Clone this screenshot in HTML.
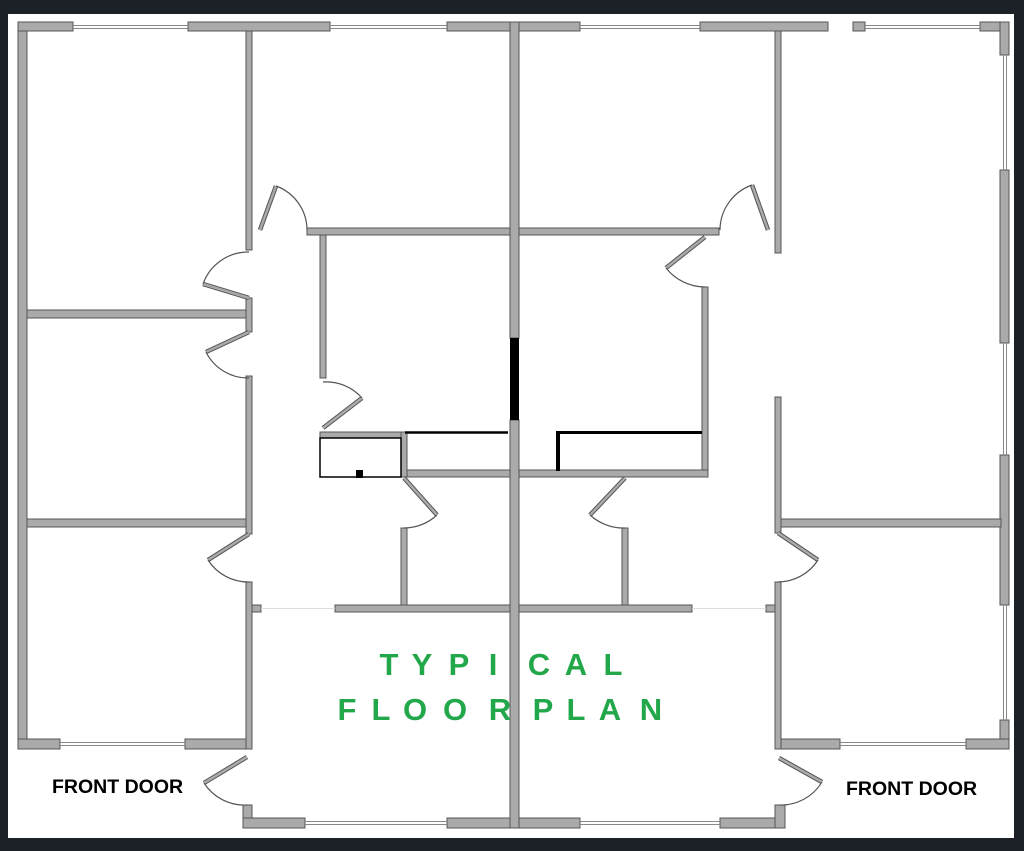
<!DOCTYPE html>
<html><head><meta charset="utf-8"><style>
html,body{margin:0;padding:0;background:#1c2127;}
svg{display:block}
</style></head><body>
<svg width="1024" height="851" viewBox="0 0 1024 851" xmlns="http://www.w3.org/2000/svg">
<rect x="0" y="0" width="1024" height="851" fill="#1c2127"/>
<rect x="8" y="14" width="1006" height="824" fill="#ffffff"/>
<g fill="#aaaaaa" stroke="#555" stroke-width="1">
<rect x="18" y="22" width="9" height="727"/>
<rect x="18" y="22" width="55" height="9"/>
<rect x="188" y="22" width="142" height="9"/>
<rect x="447" y="22" width="133" height="9"/>
<rect x="700" y="22" width="128" height="9"/>
<rect x="853" y="22" width="12" height="9"/>
<rect x="980" y="22" width="29" height="9"/>
<rect x="1000" y="22" width="9" height="33"/>
<rect x="1000" y="170" width="9" height="173"/>
<rect x="1000" y="455" width="9" height="150"/>
<rect x="1000" y="720" width="9" height="29"/>
<rect x="966" y="739" width="43" height="10"/>
<rect x="781" y="739" width="59" height="10"/>
<rect x="18" y="739" width="42" height="10"/>
<rect x="185" y="739" width="67" height="10"/>
<rect x="246" y="31" width="6" height="219"/>
<rect x="246" y="298" width="6" height="34"/>
<rect x="246" y="376" width="6" height="158"/>
<rect x="246" y="582" width="6" height="167"/>
<rect x="27" y="310" width="219" height="8"/>
<rect x="27" y="519" width="219" height="8"/>
<rect x="243" y="805" width="9" height="23"/>
<rect x="243" y="818" width="62" height="10"/>
<rect x="447" y="818" width="133" height="10"/>
<rect x="720" y="818" width="65" height="10"/>
<rect x="775" y="805" width="10" height="23"/>
<rect x="510" y="22" width="9" height="316"/>
<rect x="510" y="420" width="9" height="408"/>
<rect x="307" y="228" width="203" height="7"/>
<rect x="519" y="228" width="200" height="7"/>
<rect x="775" y="31" width="6" height="222"/>
<rect x="320" y="235" width="6" height="143"/>
<rect x="702" y="287" width="6" height="190"/>
<rect x="403" y="470" width="107" height="7"/>
<rect x="519" y="470" width="189" height="7"/>
<rect x="320" y="432" width="87" height="6"/>
<rect x="401" y="432" width="6" height="45"/>
<rect x="401" y="528" width="6" height="78"/>
<rect x="622" y="528" width="6" height="78"/>
<rect x="335" y="605" width="175" height="7"/>
<rect x="519" y="605" width="173" height="7"/>
<rect x="252" y="605" width="9" height="7"/>
<rect x="766" y="605" width="9" height="7"/>
<rect x="775" y="397" width="6" height="136"/>
<rect x="775" y="582" width="6" height="167"/>
<rect x="781" y="519" width="220" height="8"/>
</g>
<rect x="510" y="338" width="9" height="82" fill="#000"/>
<rect x="320" y="438" width="81" height="39" fill="none" stroke="#000" stroke-width="1.5"/>
<line x1="405" y1="432.5" x2="508" y2="432.5" stroke="#000" stroke-width="2.5"/>
<rect x="556" y="432" width="4" height="39" fill="#000"/>
<rect x="556" y="431" width="146" height="3" fill="#000"/>
<rect x="356" y="470" width="7" height="8" fill="#000"/>
<g stroke="#888" stroke-width="1">
<line x1="73" y1="25.5" x2="188" y2="25.5"/><line x1="73" y1="28.5" x2="188" y2="28.5"/>
<line x1="330" y1="25.5" x2="447" y2="25.5"/><line x1="330" y1="28.5" x2="447" y2="28.5"/>
<line x1="580" y1="25.5" x2="700" y2="25.5"/><line x1="580" y1="28.5" x2="700" y2="28.5"/>
<line x1="865" y1="25.5" x2="980" y2="25.5"/><line x1="865" y1="28.5" x2="980" y2="28.5"/>
<line x1="1003.5" y1="55" x2="1003.5" y2="170"/><line x1="1006.5" y1="55" x2="1006.5" y2="170"/>
<line x1="1003.5" y1="343" x2="1003.5" y2="455"/><line x1="1006.5" y1="343" x2="1006.5" y2="455"/>
<line x1="1003.5" y1="605" x2="1003.5" y2="720"/><line x1="1006.5" y1="605" x2="1006.5" y2="720"/>
<line x1="60" y1="742.5" x2="185" y2="742.5"/><line x1="60" y1="745.5" x2="185" y2="745.5"/>
<line x1="840" y1="742.5" x2="966" y2="742.5"/><line x1="840" y1="745.5" x2="966" y2="745.5"/>
<line x1="305" y1="821.5" x2="447" y2="821.5"/><line x1="305" y1="824.5" x2="447" y2="824.5"/>
<line x1="580" y1="821.5" x2="720" y2="821.5"/><line x1="580" y1="824.5" x2="720" y2="824.5"/>
</g>
<g stroke="#ddd" stroke-width="1">
<line x1="261" y1="608.5" x2="335" y2="608.5"/><line x1="692" y1="608.5" x2="766" y2="608.5"/>
</g>
<g stroke="#555" stroke-width="4.5" stroke-linecap="butt">
<line x1="260" y1="230" x2="276" y2="186"/>
<line x1="249" y1="298" x2="203" y2="284"/>
<line x1="249" y1="332" x2="206" y2="352"/>
<line x1="249" y1="534" x2="208" y2="560"/>
<line x1="247" y1="757" x2="204" y2="783"/>
<line x1="323" y1="428" x2="362" y2="398"/>
<line x1="404" y1="478" x2="437" y2="515"/>
<line x1="625" y1="478" x2="590" y2="515"/>
<line x1="768" y1="230" x2="752" y2="185"/>
<line x1="705" y1="237" x2="666" y2="268"/>
<line x1="778" y1="533" x2="818" y2="560"/>
<line x1="779" y1="758" x2="822" y2="782"/>
</g>
<g stroke="#aaa" stroke-width="2.5">
<line x1="260" y1="230" x2="276" y2="186"/>
<line x1="249" y1="298" x2="203" y2="284"/>
<line x1="249" y1="332" x2="206" y2="352"/>
<line x1="249" y1="534" x2="208" y2="560"/>
<line x1="247" y1="757" x2="204" y2="783"/>
<line x1="323" y1="428" x2="362" y2="398"/>
<line x1="404" y1="478" x2="437" y2="515"/>
<line x1="625" y1="478" x2="590" y2="515"/>
<line x1="768" y1="230" x2="752" y2="185"/>
<line x1="705" y1="237" x2="666" y2="268"/>
<line x1="778" y1="533" x2="818" y2="560"/>
<line x1="779" y1="758" x2="822" y2="782"/>
</g>
<g fill="none" stroke="#555" stroke-width="1.2">
<path d="M276 186 A47 47 0 0 1 307 230"/>
<path d="M203 284 A48 48 0 0 1 249 252"/>
<path d="M206 352 A47 47 0 0 0 249 378"/>
<path d="M208 560 A48 48 0 0 0 249 582"/>
<path d="M204 783 A48 48 0 0 0 247 805"/>
<path d="M362 398 A48 48 0 0 0 323 382"/>
<path d="M437 515 A50 50 0 0 1 404 528"/>
<path d="M590 515 A50 50 0 0 0 625 528"/>
<path d="M752 185 A48 48 0 0 0 720 230"/>
<path d="M666 268 A50 50 0 0 0 705 287"/>
<path d="M818 560 A48 48 0 0 1 778 582"/>
<path d="M822 782 A48 48 0 0 1 779 805"/>
</g>
<g font-family="Liberation Sans, sans-serif" font-weight="bold" font-size="31" fill="#22a84a" text-anchor="middle">
<text x="389" y="675">T</text><text x="422" y="675">Y</text><text x="459" y="675">P</text><text x="493" y="675">I</text>
<text x="539" y="675">C</text><text x="576" y="675">A</text><text x="613" y="675">L</text>
<text x="347" y="720">F</text><text x="381" y="720">L</text><text x="415" y="720">O</text><text x="455" y="720">O</text><text x="500" y="720">R</text>
<text x="543" y="720">P</text><text x="576" y="720">L</text><text x="610" y="720">A</text><text x="651" y="720">N</text>
</g>
<g font-family="Liberation Sans, sans-serif" font-weight="bold" font-size="19.5" fill="#000">
<text x="52" y="793">FRONT DOOR</text>
<text x="846" y="795">FRONT DOOR</text>
</g>
</svg>
</body></html>
